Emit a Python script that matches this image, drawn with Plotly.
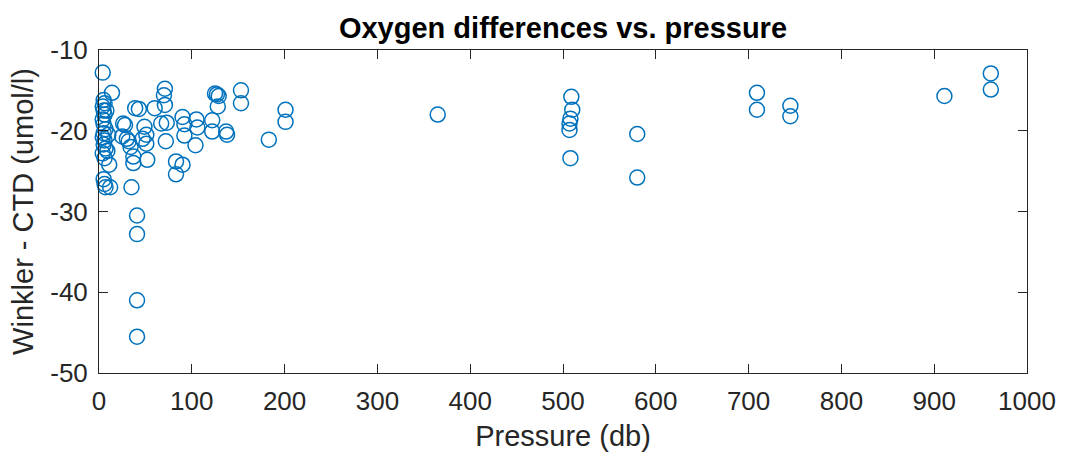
import plotly.graph_objects as go

# Winkler minus CTD oxygen differences against sample pressure
pressure = [
    4, 5, 6, 4, 5, 6, 4, 5, 7, 5, 4, 6, 5, 7, 4, 6, 5, 6, 7, 14, 10, 11, 12, 9, 8,
    26, 28, 25, 30, 32, 34, 37, 37, 35, 39, 43, 41, 41, 41, 41, 49, 51, 51, 52, 47,
    60, 67, 71, 70, 71, 72, 73,
    83, 90, 83, 90, 92, 92, 105, 106, 104,
    125, 127, 129, 128, 122, 122, 137, 138, 153, 153,
    183, 201, 201, 365, 509, 510, 508, 507, 507, 508, 580, 580,
    709, 709, 745, 745, 911, 961, 961,
]
difference = [
    -12.8, -16.2, -16.6, -17.0, -17.5, -18.0, -18.6, -19.2, -19.8, -20.3, -20.8, -21.2,
    -21.7, -22.2, -22.8, -23.4, -26.0, -26.6, -27.0, -15.3, -20.5, -24.2, -27.0, -22.5, -17.5,
    -19.1, -19.3, -20.7, -21.0, -21.3, -22.0, -23.2, -24.0, -27.0, -17.2, -17.3, -30.5,
    -32.8, -41.0, -45.5, -19.5, -20.5, -21.6, -23.6, -21.0,
    -17.2, -19.1, -14.8, -15.6, -16.8, -21.3, -19.0,
    -23.8, -24.2, -25.4, -18.3, -19.2, -20.6, -18.6, -19.6, -21.8,
    -15.4, -15.5, -15.7, -17.0, -18.7, -20.1, -20.1, -20.5, -15.0, -16.6,
    -21.1, -17.4, -18.9, -18.0, -15.8, -17.4, -18.5, -19.1, -19.9, -23.4, -20.4, -25.8,
    -15.3, -17.4, -16.9, -18.2, -15.7, -12.9, -14.9,
]

x_ticks = [0, 100, 200, 300, 400, 500, 600, 700, 800, 900, 1000]
y_ticks = [-50, -40, -30, -20, -10]
x_tick_text = [str(v) for v in x_ticks]
y_tick_text = [str(v) for v in y_ticks]  # plain hyphen-minus

axis_color = "#262626"
font_family = "Liberation Sans, Arial, sans-serif"

fig = go.Figure(
    go.Scatter(
        x=pressure,
        y=difference,
        mode="markers",
        cliponaxis=False,
        marker=dict(
            symbol="circle-open",
            size=15,
            color="#0072BD",
            line=dict(width=1.5, color="#0072BD"),
        ),
        showlegend=False,
    )
)

axis_common = dict(
    showline=True,
    linecolor=axis_color,
    linewidth=1,
    mirror="ticks",
    ticks="inside",
    ticklen=9,
    tickwidth=1,
    tickcolor=axis_color,
    showgrid=False,
    zeroline=False,
    ticklabelstandoff=5,
    tickfont=dict(family=font_family, size=26, color=axis_color),
)

fig.update_xaxes(
    range=[0, 1000],
    tickvals=x_ticks,
    ticktext=x_tick_text,
    title=dict(text="Pressure (db)", font=dict(family=font_family, size=29, color=axis_color), standoff=10),
    **axis_common,
)
fig.update_yaxes(
    range=[-50, -10],
    tickvals=y_ticks,
    ticktext=y_tick_text,
    title=dict(text="Winkler - CTD (umol/l)", font=dict(family=font_family, size=29, color=axis_color), standoff=8),
    **axis_common,
)

fig.update_layout(
    width=1068,
    height=460,
    margin=dict(l=99, r=37, t=50, b=87),
    paper_bgcolor="white",
    plot_bgcolor="white",
    title=dict(
        text="<b>Oxygen differences vs. pressure</b>",
        font=dict(family=font_family, size=29, color="black"),
        x=0.5,
        xanchor="center",
        xref="paper",
        y=1,
        yref="paper",
        yanchor="bottom",
        pad=dict(b=12),
    ),
)

fig.write_html("out.html")
